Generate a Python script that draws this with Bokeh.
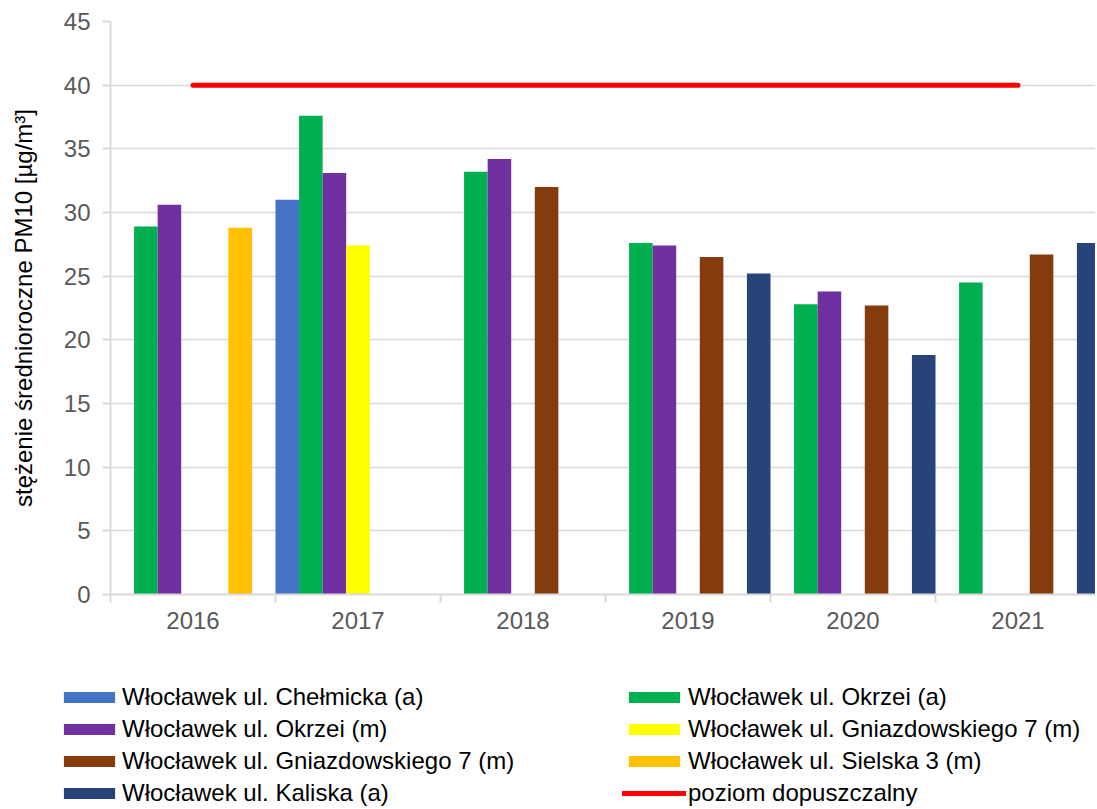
from bokeh.plotting import figure
from bokeh.models import Range1d, FixedTicker, Legend, LegendItem
from bokeh.embed import file_html
from bokeh.resources import INLINE

# ---------------- data ----------------
years = ["2016", "2017", "2018", "2019", "2020", "2021"]
y_ticks = [0, 5, 10, 15, 20, 25, 30, 35, 40, 45]

chelmicka_a = [None, 31.0, None, None, None, None]
okrzei_a = [28.9, 37.6, 33.2, 27.6, 22.8, 24.5]
okrzei_m = [30.6, 33.1, 34.2, 27.4, 23.8, None]
gniazdowskiego_m_y = [None, 27.4, None, None, None, None]
gniazdowskiego_m_b = [None, None, 32.0, 26.5, 22.7, 26.7]
sielska_m = [28.8, None, None, None, None, None]
kaliska_a = [None, None, None, 25.2, 18.8, 27.6]
poziom_dopuszczalny = [40, 40, 40, 40, 40, 40]

series_names = [
    "Włocławek ul. Chełmicka (a)",
    "Włocławek ul. Okrzei (a)",
    "Włocławek ul. Okrzei (m)",
    "Włocławek ul. Gniazdowskiego 7 (m)",
    "Włocławek ul. Gniazdowskiego 7 (m)",
    "Włocławek ul. Sielska 3 (m)",
    "Włocławek ul. Kaliska (a)",
]
series_values = [chelmicka_a, okrzei_a, okrzei_m, gniazdowskiego_m_y,
                 gniazdowskiego_m_b, sielska_m, kaliska_a]
series_colors = ["#4472C4", "#00B050", "#7030A0", "#FFFF00",
                 "#843C0C", "#FFC000", "#264478"]
limit_name = "poziom dopuszczalny"
limit_color = "#FF0000"

# ---------------- layout ----------------
W = 1095
H1 = 645
H2 = 162
LEFT, TOP = 110, 21
BOTTOM = H1 - 594
CAT_PX = 165.0
frame_w = W - LEFT
n_series = len(series_values)

FONT = "Liberation Sans"

p = figure(width=W, height=H1, output_backend="svg", toolbar_location=None,
           x_range=Range1d(0, frame_w / CAT_PX), y_range=Range1d(0, 45),
           min_border_left=LEFT, min_border_right=0, min_border_top=TOP,
           min_border_bottom=BOTTOM)
p.outline_line_color = None
p.background_fill_color = "white"
p.border_fill_color = "white"

for j, (vals, color) in enumerate(zip(series_values, series_colors)):
    xs = [i + (j + 0.5) / n_series for i, v in enumerate(vals) if v is not None]
    tops = [v for v in vals if v is not None]
    p.vbar(x=xs, top=tops, bottom=0, width=1.0 / n_series,
           fill_color=color, line_color=None)

p.line(x=[i + 0.5 for i in range(len(years))], y=poziom_dopuszczalny,
       line_color=limit_color, line_width=5, line_cap="round")

# x axis
p.xaxis.ticker = FixedTicker(ticks=[i + 0.5 for i in range(len(years))],
                             minor_ticks=list(range(len(years) + 1)))
p.xaxis.major_label_overrides = {i + 0.5: y for i, y in enumerate(years)}
p.xaxis.major_tick_out = 0
p.xaxis.major_tick_in = 0
p.xaxis.minor_tick_out = 8
p.xaxis.minor_tick_in = 0
p.xaxis.minor_tick_line_color = "#D9D9D9"
p.xaxis.minor_tick_line_width = 2
p.xaxis.axis_line_color = "#D9D9D9"
p.xaxis.axis_line_width = 2
p.xaxis.major_label_standoff = 9
p.xaxis.major_label_text_font = FONT
p.xaxis.major_label_text_font_size = "24px"
p.xaxis.major_label_text_color = "#595959"
p.xgrid.visible = False

# y axis
p.yaxis.ticker = FixedTicker(ticks=y_ticks)
p.yaxis.minor_tick_line_color = None
p.yaxis.major_tick_out = 8
p.yaxis.major_tick_in = 0
p.yaxis.major_tick_line_color = "#D9D9D9"
p.yaxis.major_tick_line_width = 2
p.yaxis.axis_line_color = "#D9D9D9"
p.yaxis.axis_line_width = 2
p.yaxis.major_label_standoff = 12
p.yaxis.major_label_text_font = FONT
p.yaxis.major_label_text_font_size = "24px"
p.yaxis.major_label_text_color = "#595959"
p.yaxis.axis_label = "stężenie średnioroczne PM10 [µg/m³]"
p.yaxis.axis_label_text_font = FONT
p.yaxis.axis_label_text_font_size = "24px"
p.yaxis.axis_label_text_font_style = "normal"
p.yaxis.axis_label_text_color = "#000000"
p.yaxis.axis_label_standoff = 24
p.ygrid.grid_line_color = "#D9D9D9"
p.ygrid.grid_line_width = 1.5

# ---------------- legend (separate strip below) ----------------
lf = figure(width=W, height=H2, output_backend="svg", toolbar_location=None,
            x_range=Range1d(0, 1), y_range=Range1d(0, 1),
            x_axis_type=None, y_axis_type=None,
            min_border_left=0, min_border_right=0, min_border_top=0,
            min_border_bottom=0)
lf.outline_line_color = None
lf.grid.visible = False

# swatch-only renderers: zero-size and far outside the visible range
swatches = [lf.vbar(x=[-5], top=[-5], bottom=-5, width=0.1, fill_color=c,
                    line_color=None) for c in series_colors]
limit_swatch = lf.line(x=[-6, -5], y=[-5, -5], line_color=limit_color,
                       line_width=5, line_cap="round")

left_idx = [0, 2, 4, 6]
right_idx = [1, 3, 5]
items1 = [LegendItem(label=series_names[k], renderers=[swatches[k]]) for k in left_idx]
items2 = [LegendItem(label=series_names[k], renderers=[swatches[k]]) for k in right_idx]
items2.append(LegendItem(label=limit_name, renderers=[limit_swatch]))


def make_legend(items, loc, standoff):
    lg = Legend(items=items, location=loc, orientation="vertical")
    lg.border_line_color = None
    lg.background_fill_alpha = 0
    lg.padding = 0
    lg.margin = 0
    lg.spacing = 4
    lg.glyph_width = 64
    lg.glyph_height = 14
    lg.label_height = 22
    lg.label_standoff = standoff
    lg.label_text_font = FONT
    lg.label_text_font_size = "24px"
    lg.label_text_color = "#000000"
    return lg


lf.add_layout(make_legend(items1, (57, 0), 1))
lf.add_layout(make_legend(items2, (622, 0), 2))

open("out.html", "w").write(file_html([p, lf], INLINE))
